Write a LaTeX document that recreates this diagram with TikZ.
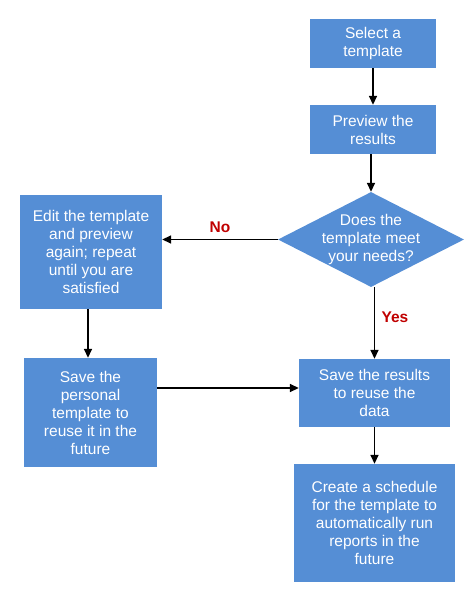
\documentclass[tikz,border=0pt]{standalone}
\usepackage{fontspec}
\setmainfont{Liberation Sans}
\usepackage{tikz}
\usetikzlibrary{positioning, arrows.meta, shapes.geometric}
\usepackage{xcolor}
\definecolor{flowblue}{RGB}{85,142,213}
\definecolor{answerred}{RGB}{192,0,0}
\newcommand{\boxcolor}{flowblue}
\newcommand{\answercolor}{answerred}

\begin{document}
\begin{tikzpicture}[
      % GLOBAL CFG
      x=1pt, y=-1pt,
      font=\fontsize{15.5}{18}\selectfont,
      >={Triangle[length=9pt,width=8pt]},
      % Styles
      stepbox/.style={% For the steps
        rectangle,
        fill=\boxcolor,
        text=white,
        align=center,
        inner sep=2pt
      },
      decision/.style={% For the question
        diamond,
        fill=\boxcolor,
        inner sep=0pt,
        minimum width=186pt,
        minimum height=95pt
      },
      answer/.style={% For yes / no
        text=\answercolor,
        font=\fontsize{15.5}{18}\selectfont\bfseries
      },
      arrowflow/.style={% Arrows between steps
        line width=1.6pt,
        ->
      }
      ]

      \useasboundingbox (0,0) rectangle (474,600);

      % Right column
      \node [stepbox, minimum width=126pt, minimum height=49pt] (select) at (373,43.5) {Select a\\template};
      \node [stepbox, minimum width=126pt, minimum height=49pt] (preview) at (373,129.5) {Preview the\\results};
      \node [decision, label={[text=white, align=center]center:{Does the\\template meet\\your needs?}}] (needs) at (371,239.5) {};
      \node [stepbox, minimum width=151pt, minimum height=68pt] (saveresults) at (374.5,393) {Save the results\\to reuse the\\data};
      \node [stepbox, minimum width=161pt, minimum height=118pt] (schedule) at (374.5,523) {Create a schedule\\for the template to\\automatically run\\reports in the\\future};

      % Left column
      \node [stepbox, minimum width=142pt, minimum height=114pt] (edit) at (91,252) {Edit the template\\and preview\\again; repeat\\until you are\\satisfied};
      \node [stepbox, minimum width=133pt, minimum height=109pt] (savepersonal) at (90.5,412.5) {Save the\\personal\\template to\\reuse it in the\\future};

      \draw [arrowflow] (select) -- (preview);
      \draw [arrowflow] (preview.south -| needs.north) -- (needs.north);
      \draw [arrowflow] (needs.west) -- (needs.west -| edit.east) node [answer, midway, above=3pt] (no) {No};
      \draw [arrowflow] (needs.south -| saveresults.north) -- (saveresults.north) node [answer, pos=0.42, right=3pt] (yes) {Yes};
      \draw [arrowflow] (edit.south -| 88,0) -- (savepersonal.north -| 88,0);
      \draw [arrowflow] ([yshift=5pt]saveresults.west -| savepersonal.east) -- ([yshift=5pt]saveresults.west);
      \draw [arrowflow] (saveresults) -- (schedule);

    \end{tikzpicture}
\end{document}
